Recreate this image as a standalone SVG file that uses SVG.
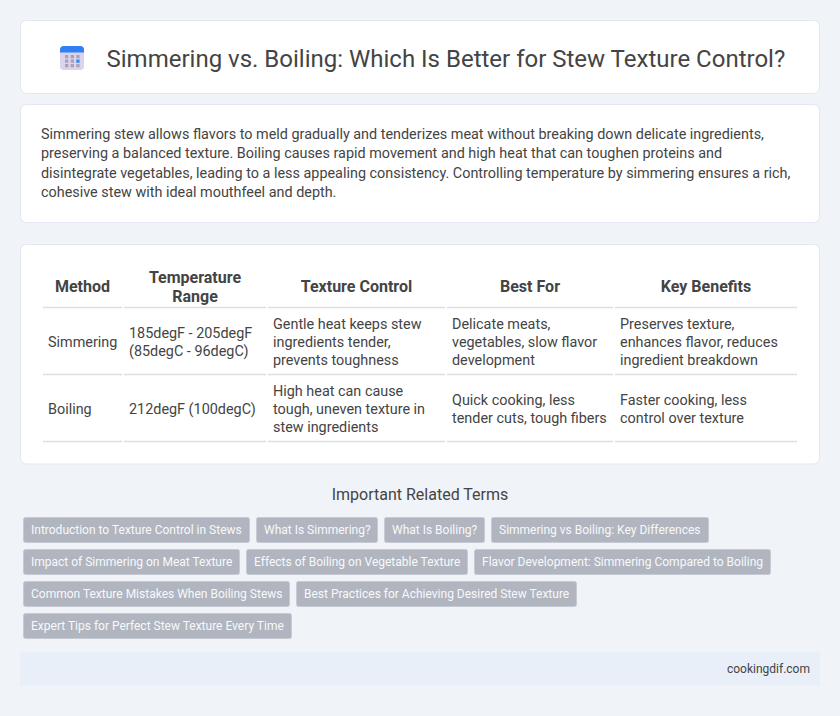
<svg xmlns="http://www.w3.org/2000/svg" width="840" height="716" viewBox="0 0 840 716">
<style>
text{font-family:Roboto,"Liberation Sans",sans-serif;fill:#444}
.card{fill:#fff;stroke:#e3e7f0;stroke-width:1}
.b{font-size:14.4px}
.t{font-size:14.4px}
.h{font-size:16px;font-weight:700;text-anchor:middle}
.r{stroke:#dedede;stroke-width:1.5;fill:none}
.tag rect{fill:#b0b5c0;stroke:#c6cad2;stroke-width:1}
.tag text{font-size:12px;fill:#f8f9fa}
</style>
<rect width="840" height="716" fill="#f0f4f9"/>
<g id="header">
<rect class="card" x="20.5" y="20.5" width="799" height="73" rx="6"/>
<g id="icon">
<rect x="60" y="46" width="24" height="24" rx="4" fill="#dcd3ec"/>
<path d="M60 52.500v-2.500a4 4 0 0 1 4-4h16a4 4 0 0 1 4 4v2.500z" fill="#2f80f5"/>
<g fill="#a9a3b8"><rect x="65" y="55" width="3.300" height="3.300"/><rect x="70.700" y="55" width="3.300" height="3.300"/><rect x="76.300" y="55" width="3.300" height="3.300"/><rect x="65" y="59.500" width="3.300" height="3.300"/><rect x="70.700" y="59.500" width="3.300" height="3.300"/><rect x="65" y="64" width="3.300" height="3.300"/><rect x="70.700" y="64" width="3.300" height="3.300"/><rect x="76.300" y="64" width="3.300" height="3.300"/></g>
<rect x="76.300" y="59.500" width="3.300" height="3.300" fill="#2f8df5"/>
</g>
<text x="106.500" y="67" font-size="24">Simmering vs. Boiling: Which Is Better for Stew Texture Control?</text>
</g>
<g id="summary">
<rect class="card" x="20.5" y="104.5" width="799" height="118" rx="6"/>
<text class="b" x="41" y="139">Simmering stew allows flavors to meld gradually and tenderizes meat without breaking down delicate ingredients,</text>
<text class="b" x="41" y="158">preserving a balanced texture. Boiling causes rapid movement and high heat that can toughen proteins and</text>
<text class="b" x="41" y="178">disintegrate vegetables, leading to a less appealing consistency. Controlling temperature by simmering ensures a rich,</text>
<text class="b" x="41" y="197">cohesive stew with ideal mouthfeel and depth.</text>
</g>
<g id="table">
<rect class="card" x="20.5" y="244.500" width="799" height="219.500" rx="6"/>
<path class="r" d="M43 307.500H122M124 307.500H266M268 307.500H445M447 307.500H613M615 307.500H797M43 374.500H122M124 374.500H266M268 374.500H445M447 374.500H613M615 374.500H797M43 441.500H122M124 441.500H266M268 441.500H445M447 441.500H613M615 441.500H797"/>
<text class="h" x="82.500" y="292">Method</text>
<text class="h" x="195" y="283">Temperature</text>
<text class="h" x="195" y="302">Range</text>
<text class="h" x="356.500" y="292">Texture Control</text>
<text class="h" x="530" y="292">Best For</text>
<text class="h" x="706" y="292">Key Benefits</text>
<text class="t" x="48" y="347">Simmering</text>
<text class="t" x="129" y="338">185degF - 205degF</text>
<text class="t" x="129" y="356">(85degC - 96degC)</text>
<text class="t" x="273" y="329">Gentle heat keeps stew</text>
<text class="t" x="273" y="347">ingredients tender,</text>
<text class="t" x="273" y="365">prevents toughness</text>
<text class="t" x="452" y="329">Delicate meats,</text>
<text class="t" x="452" y="347">vegetables, slow flavor</text>
<text class="t" x="452" y="365">development</text>
<text class="t" x="620" y="329">Preserves texture,</text>
<text class="t" x="620" y="347">enhances flavor, reduces</text>
<text class="t" x="620" y="365">ingredient breakdown</text>
<text class="t" x="48" y="414">Boiling</text>
<text class="t" x="129" y="414">212degF (100degC)</text>
<text class="t" x="273" y="396">High heat can cause</text>
<text class="t" x="273" y="414">tough, uneven texture in</text>
<text class="t" x="273" y="432">stew ingredients</text>
<text class="t" x="452" y="405">Quick cooking, less</text>
<text class="t" x="452" y="423">tender cuts, tough fibers</text>
<text class="t" x="620" y="405">Faster cooking, less</text>
<text class="t" x="620" y="423">control over texture</text>
</g>
<text id="terms-title" x="420" y="500" font-size="16" text-anchor="middle">Important Related Terms</text>
<g id="tag1" class="tag"><rect x="23.500" y="517.500" width="226" height="25" rx="2"/><text x="31" y="534">Introduction to Texture Control in Stews</text></g>
<g id="tag2" class="tag"><rect x="256.500" y="517.500" width="121" height="25" rx="2"/><text x="264" y="534">What Is Simmering?</text></g>
<g id="tag3" class="tag"><rect x="384.500" y="517.500" width="100" height="25" rx="2"/><text x="392" y="534">What Is Boiling?</text></g>
<g id="tag4" class="tag"><rect x="491.500" y="517.500" width="217" height="25" rx="2"/><text x="499" y="534">Simmering vs Boiling: Key Differences</text></g>
<g id="tag5" class="tag"><rect x="23.500" y="549.500" width="216" height="25" rx="2"/><text x="31" y="566">Impact of Simmering on Meat Texture</text></g>
<g id="tag6" class="tag"><rect x="246.500" y="549.500" width="221" height="25" rx="2"/><text x="254" y="566">Effects of Boiling on Vegetable Texture</text></g>
<g id="tag7" class="tag"><rect x="474.500" y="549.500" width="296" height="25" rx="2"/><text x="482" y="566">Flavor Development: Simmering Compared to Boiling</text></g>
<g id="tag8" class="tag"><rect x="23.500" y="581.500" width="266" height="25" rx="2"/><text x="31" y="598">Common Texture Mistakes When Boiling Stews</text></g>
<g id="tag9" class="tag"><rect x="296.500" y="581.500" width="280" height="25" rx="2"/><text x="304" y="598">Best Practices for Achieving Desired Stew Texture</text></g>
<g id="tag10" class="tag"><rect x="23.500" y="613.500" width="268" height="25" rx="2"/><text x="31" y="630">Expert Tips for Perfect Stew Texture Every Time</text></g>
<g id="footer">
<rect x="20" y="652" width="800" height="33.500" fill="#e8eff8"/>
<text x="810" y="673" font-size="12" text-anchor="end">cookingdif.com</text>
</g>
</svg>
